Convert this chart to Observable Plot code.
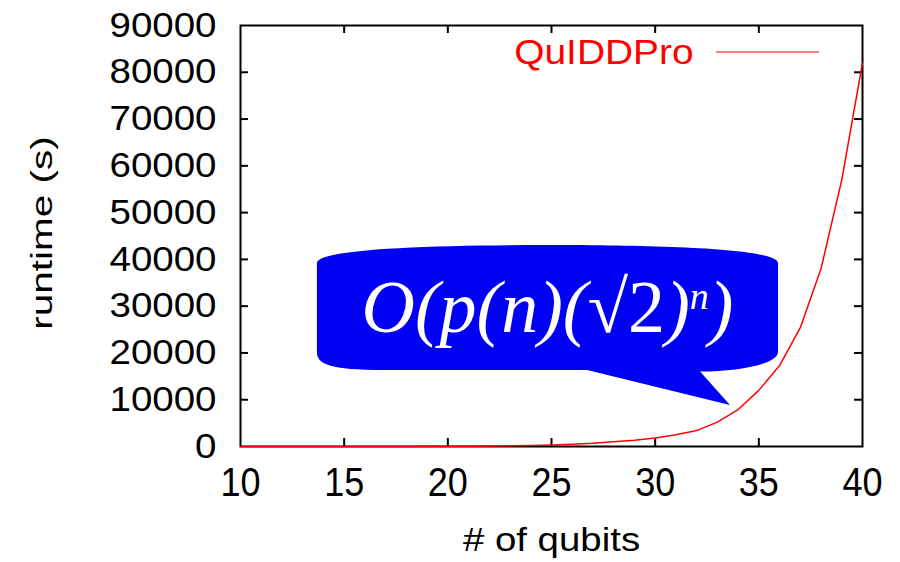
<!DOCTYPE html>
<html><head><meta charset="utf-8">
<script src="https://cdn.jsdelivr.net/npm/d3@7"></script>
<script src="https://cdn.jsdelivr.net/npm/@observablehq/plot@0.6"></script>
<style>html,body{margin:0;padding:0;background:#fff;} svg{display:block}</style>
</head><body><div id="chart"></div>
<script>
// ---- data ----
const qubits  = [10,11,12,13,14,15,16,17,18,19,20,21,22,23,24,25,26,27,28,29,30,31,32,33,34,35,36,37,38,39,40];
const runtime = [0.7,1.1,1.7,2.6,4,6,9,13,20,30,45,65,100,150,220,330,500,700,1000,1350,1800,2500,3400,5200,7900,12000,17300,25400,38000,57000,82000];
const xTicks = [10,15,20,25,30,35,40];
const yTicks = [0,10000,20000,30000,40000,50000,60000,70000,80000,90000];
const seriesName = "QuIDDPro";
const xLabel = "# of qubits";
const yLabel = "runtime (s)";

// annotation (speech bubble) anchored in data units
const bubbleEdgesX = [13.71, 35.95];            // left, right
const bubbleTopY = [39100, 42950];              // at sides, middle
const bubbleBottomY = [20100, 16250];           // at sides, middle
const bubbleCornerX = [17.0, 32.19];            // where bottom corners flatten
const tailX = [26.74, 33.63, 32.19];            // base-left, tip, base-right
const tailY = [16250, 8770, 15900];
const formulaAt = [24.83, 24370];

const data = qubits.map((q, i) => ({q, t: runtime[i]}));

const W = 900, H = 562, mL = 240, mR = 38, mT = 25, mB = 116;
const fw = W - mL - mR, fh = H - mT - mB;
const TICK = 8;
const sans = "'Liberation Sans', Arial, Helvetica, sans-serif";
const RED = "#ff0000";

const chart = Plot.plot({
  width: W, height: H,
  marginLeft: mL, marginRight: mR, marginTop: mT, marginBottom: mB,
  x: {domain: [10, 40], axis: null},
  y: {domain: [0, 90000], axis: null},
  style: {background: "white", fontFamily: sans, color: "black"},
  marks: [
    Plot.ruleX(xTicks.slice(1, -1), {x: d => d, insetTop: fh - TICK, stroke: "black", strokeWidth: 2}),
    Plot.ruleX(xTicks.slice(1, -1), {x: d => d, insetBottom: fh - TICK, stroke: "black", strokeWidth: 2}),
    Plot.ruleY(yTicks.slice(1, -1), {y: d => d, insetRight: fw - TICK, stroke: "black", strokeWidth: 2}),
    Plot.ruleY(yTicks.slice(1, -1), {y: d => d, insetLeft: fw - TICK, stroke: "black", strokeWidth: 2}),
    Plot.frame({stroke: "black", strokeWidth: 2}),
    Plot.text(yTicks, {y: d => d, text: d => String(d), frameAnchor: "left", lineAnchor: "middle", textAnchor: "end", dx: -24, fontSize: 35, fill: "black", ariaDescription: "ytick"}),
    Plot.text(xTicks, {x: d => d, text: d => String(d), frameAnchor: "bottom", lineAnchor: "middle", dy: 37, fontSize: 40, fill: "black", ariaDescription: "xtick"}),
    Plot.text([xLabel], {text: d => d, frameAnchor: "bottom", lineAnchor: "middle", dy: 94, fontSize: 34, fill: "black", ariaDescription: "xlabel"}),
    Plot.text([yLabel], {text: d => d, frameAnchor: "left", lineAnchor: "middle", textAnchor: "middle", rotate: -90, dx: -198, dy: -3, fontSize: 30, fill: "black", ariaDescription: "ylabel"}),
    Plot.text([seriesName], {text: d => d, frameAnchor: "top-right", lineAnchor: "middle", textAnchor: "end", dx: -169, dy: 27, fontSize: 36, fill: RED, ariaDescription: "legend"}),
    Plot.line(data, {x: "q", y: "t", stroke: RED, strokeWidth: 1.5})
  ]
});
document.getElementById("chart").appendChild(chart);

// anisotropic text stretch (along the text direction) to match the reference glyph proportions
function stretch(desc, sx) {
  chart.querySelectorAll(`g[aria-description="${desc}"] text`).forEach(t => {
    let tr = t.getAttribute("transform") || "";
    const x = t.getAttribute("x");
    if (x != null && !isNaN(parseFloat(x)) && !/[a-z%]/i.test(x)) {
      tr += ` translate(${parseFloat(x)},0)`;
      t.removeAttribute("x");
    }
    t.setAttribute("transform", (tr + ` scale(${sx},1)`).trim());
  });
}
stretch("ytick", 1.1);
stretch("xtick", 0.9);
stretch("xlabel", 1.13);
stretch("ylabel", 1.35);
stretch("legend", 1.08);

// scales
const xs = chart.scale("x"), ys = chart.scale("y");
const X = xs.apply ? v => xs.apply(v) : d3.scaleLinear(xs.domain, xs.range);
const Y = ys.apply ? v => ys.apply(v) : d3.scaleLinear(ys.domain, ys.range);

const NS = "http://www.w3.org/2000/svg";
const lineG = chart.querySelector('g[aria-label="line"]');
const g = document.createElementNS(NS, "g");
lineG.parentNode.insertBefore(g, lineG);

// bubble
const L = X(bubbleEdgesX[0]), R = X(bubbleEdgesX[1]);
const Ts = Y(bubbleTopY[0]), Tm = Y(bubbleTopY[1]);
const Bs = Y(bubbleBottomY[0]), Bm = Y(bubbleBottomY[1]);
const CL = X(bubbleCornerX[0]), CR = X(bubbleCornerX[1]);
const M = (L + R) / 2;
const tx = tailX.map(X), ty = tailY.map(Y);
const d = [
  `M${L},${Ts}`,
  `C${L},${Ts - 14} ${L + 110},${Tm} ${M},${Tm}`,
  `C${R - 110},${Tm} ${R},${Ts - 14} ${R},${Ts}`,
  `L${R},${Bs}`,
  `C${R},${Bs + 12} ${R - 40},${ty[2]} ${CR},${ty[2]}`,
  `L${tx[1]},${ty[1]}`,
  `L${tx[0]},${ty[0]}`,
  `L${CL},${Bm}`,
  `C${L + 12},${Bm} ${L},${Bs + 12} ${L},${Bs}`,
  "Z"
].join(" ");
const path = document.createElementNS(NS, "path");
path.setAttribute("d", d);
path.setAttribute("fill", "#0000f5");
g.appendChild(path);

// formula text
const ft = document.createElementNS(NS, "text");
ft.setAttribute("x", X(formulaAt[0]));
ft.setAttribute("y", Y(formulaAt[1]));
ft.setAttribute("text-anchor", "middle");
ft.setAttribute("fill", "white");
ft.setAttribute("font-family", "'Liberation Serif', 'Times New Roman', serif");
ft.setAttribute("font-size", "74");
const parts = [
  ["O(p(n)(", {"font-style": "italic"}],
  ["\u221A2", {}],
  [")", {"font-style": "italic"}],
  ["n", {"font-style": "italic", "font-size": "38", "dy": "-23"}],
  [")", {"font-style": "italic", "dy": "23"}]
];
for (const [s, attrs] of parts) {
  const sp = document.createElementNS(NS, "tspan");
  for (const k in attrs) sp.setAttribute(k, attrs[k]);
  sp.textContent = s;
  ft.appendChild(sp);
}
g.appendChild(ft);

// legend sample line
const ll = document.createElementNS(NS, "line");
ll.setAttribute("x1", X(40) - 146); ll.setAttribute("x2", X(40) - 43);
ll.setAttribute("y1", Y(90000) + 27); ll.setAttribute("y2", Y(90000) + 27);
ll.setAttribute("stroke", RED); ll.setAttribute("stroke-width", 1);
chart.appendChild(ll);
</script>
</body></html>
